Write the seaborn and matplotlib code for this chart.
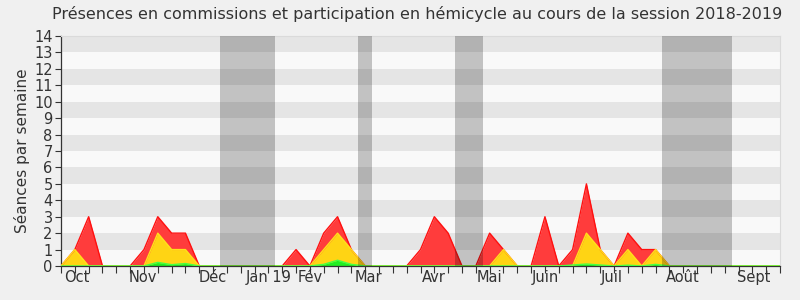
import numpy as np
import pandas as pd
import matplotlib
matplotlib.use("Agg")
import matplotlib.pyplot as plt
import seaborn as sns

# ---- data (weekly values, weeks 0..52) ----
weeks = list(range(53))
red_vals = [0, 1, 3, 0, 0, 0, 1, 3, 2, 2, 0, 0, 0, 0, 0, 0, 0, 1, 0, 2, 3, 1, 0, 0, 0, 0,
            1, 3, 2, 0, 0, 2, 1, 0, 0, 3, 0, 1, 5, 1, 0, 2, 1, 1, 0, 0, 0, 0, 0, 0, 0, 0, 0]
yellow_vals = [0, 1, 0, 0, 0, 0, 0, 2, 1, 1, 0, 0, 0, 0, 0, 0, 0, 0, 0, 1, 2, 1, 0, 0, 0, 0,
               0, 0, 0, 0, 0, 0, 1, 0, 0, 0, 0, 0, 2, 1, 0, 1, 0, 1, 0, 0, 0, 0, 0, 0, 0, 0, 0]
green_vals = [0, 0, 0, 0, 0, 0, 0, 0.22, 0.08, 0.15, 0, 0, 0, 0, 0, 0, 0, 0, 0, 0.1, 0.35, 0.1, 0, 0, 0, 0,
              0, 0, 0, 0, 0, 0, 0, 0, 0, 0, 0, 0.06, 0.12, 0.06, 0, 0.05, 0, 0.1, 0, 0, 0, 0, 0, 0, 0, 0, 0]
vacations = [(11.5, 15.5), (21.5, 22.5), (28.5, 30.5), (43.5, 48.5)]
month_labels = ["Oct", "Nov", "Déc", "Jan 19", "Fév", "Mar", "Avr", "Mai", "Juin", "Juil", "Août", "Sept"]
month_pos = [1.15, 5.95, 11.0, 15.0, 18.0, 22.2, 27.0, 31.0, 35.0, 39.8, 45.0, 50.1]
y_ticks = list(range(15))

title = "Présences en commissions et participation en hémicycle au cours de la session 2018-2019"
ylabel = "Séances par semaine"

df = pd.DataFrame({
    "week": weeks * 3,
    "value": red_vals + yellow_vals + green_vals,
    "serie": ["red"] * 53 + ["yellow"] * 53 + ["green"] * 53,
})

sns.set_theme(style="white")
plt.rcParams["font.family"] = ["DejaVu Sans"]

fig = plt.figure(figsize=(8, 3), dpi=100, facecolor="#F0F0F0")
ax = fig.add_axes([61 / 800, 34 / 300, 719 / 800, 230 / 300])
ax.set_facecolor("#F9F9F9")

# horizontal stripes
for k in range(1, 14, 2):
    ax.axhspan(k, k + 1, color="#E5E5E5", lw=0, zorder=0)

fills = {"red": "#FF3C3C", "yellow": "#FFD414", "green": "#22EE22"}
edges = {"red": "#FF1010", "yellow": "#FFE21A", "green": "#44FF44"}
for s in ["red", "yellow", "green"]:
    d = df[df.serie == s]
    ax.fill_between(d.week, 0, d.value, color=fills[s], lw=0, zorder=2)
sns.lineplot(data=df, x="week", y="value", hue="serie", palette=edges,
             hue_order=["red", "yellow", "green"], lw=1.0, legend=False, ax=ax, zorder=3)

for a, b in vacations:
    ax.axvspan(a, b, color="black", alpha=0.22, lw=0, zorder=4)

ax.set_xlim(0, 52)
ax.set_ylim(0, 14)
ax.set_yticks(y_ticks)
ax.set_yticklabels([str(v) for v in y_ticks], fontsize=10.5, color="#333333")
ax.set_xticks(weeks)
ax.set_xticklabels([""] * len(weeks))
ax.tick_params(axis="x", which="major", direction="out", length=5, width=0.8, color="#333333", bottom=True)
ax.tick_params(axis="y", direction="out", length=4, width=0.8, color="#333333", left=True, pad=2)
ax.set_xlabel("")
ax.set_ylabel(ylabel, fontsize=11, color="#333333", labelpad=3)

sec = ax.secondary_xaxis("bottom")
sec.set_xticks(month_pos)
sec.set_xticklabels(month_labels, fontsize=10.5, color="#333333")
sec.tick_params(length=0, pad=3)
sec.spines["bottom"].set_visible(False)

for side in ["left", "bottom"]:
    ax.spines[side].set_color("#333333")
    ax.spines[side].set_linewidth(0.9)
for side in ["top", "right"]:
    ax.spines[side].set_color("#DADADA")
    ax.spines[side].set_linewidth(0.8)

fig.text(0.521, 0.953, title, ha="center", va="center", fontsize=11.5, color="#333333")

fig.savefig("out.png", dpi=100, facecolor=fig.get_facecolor())
